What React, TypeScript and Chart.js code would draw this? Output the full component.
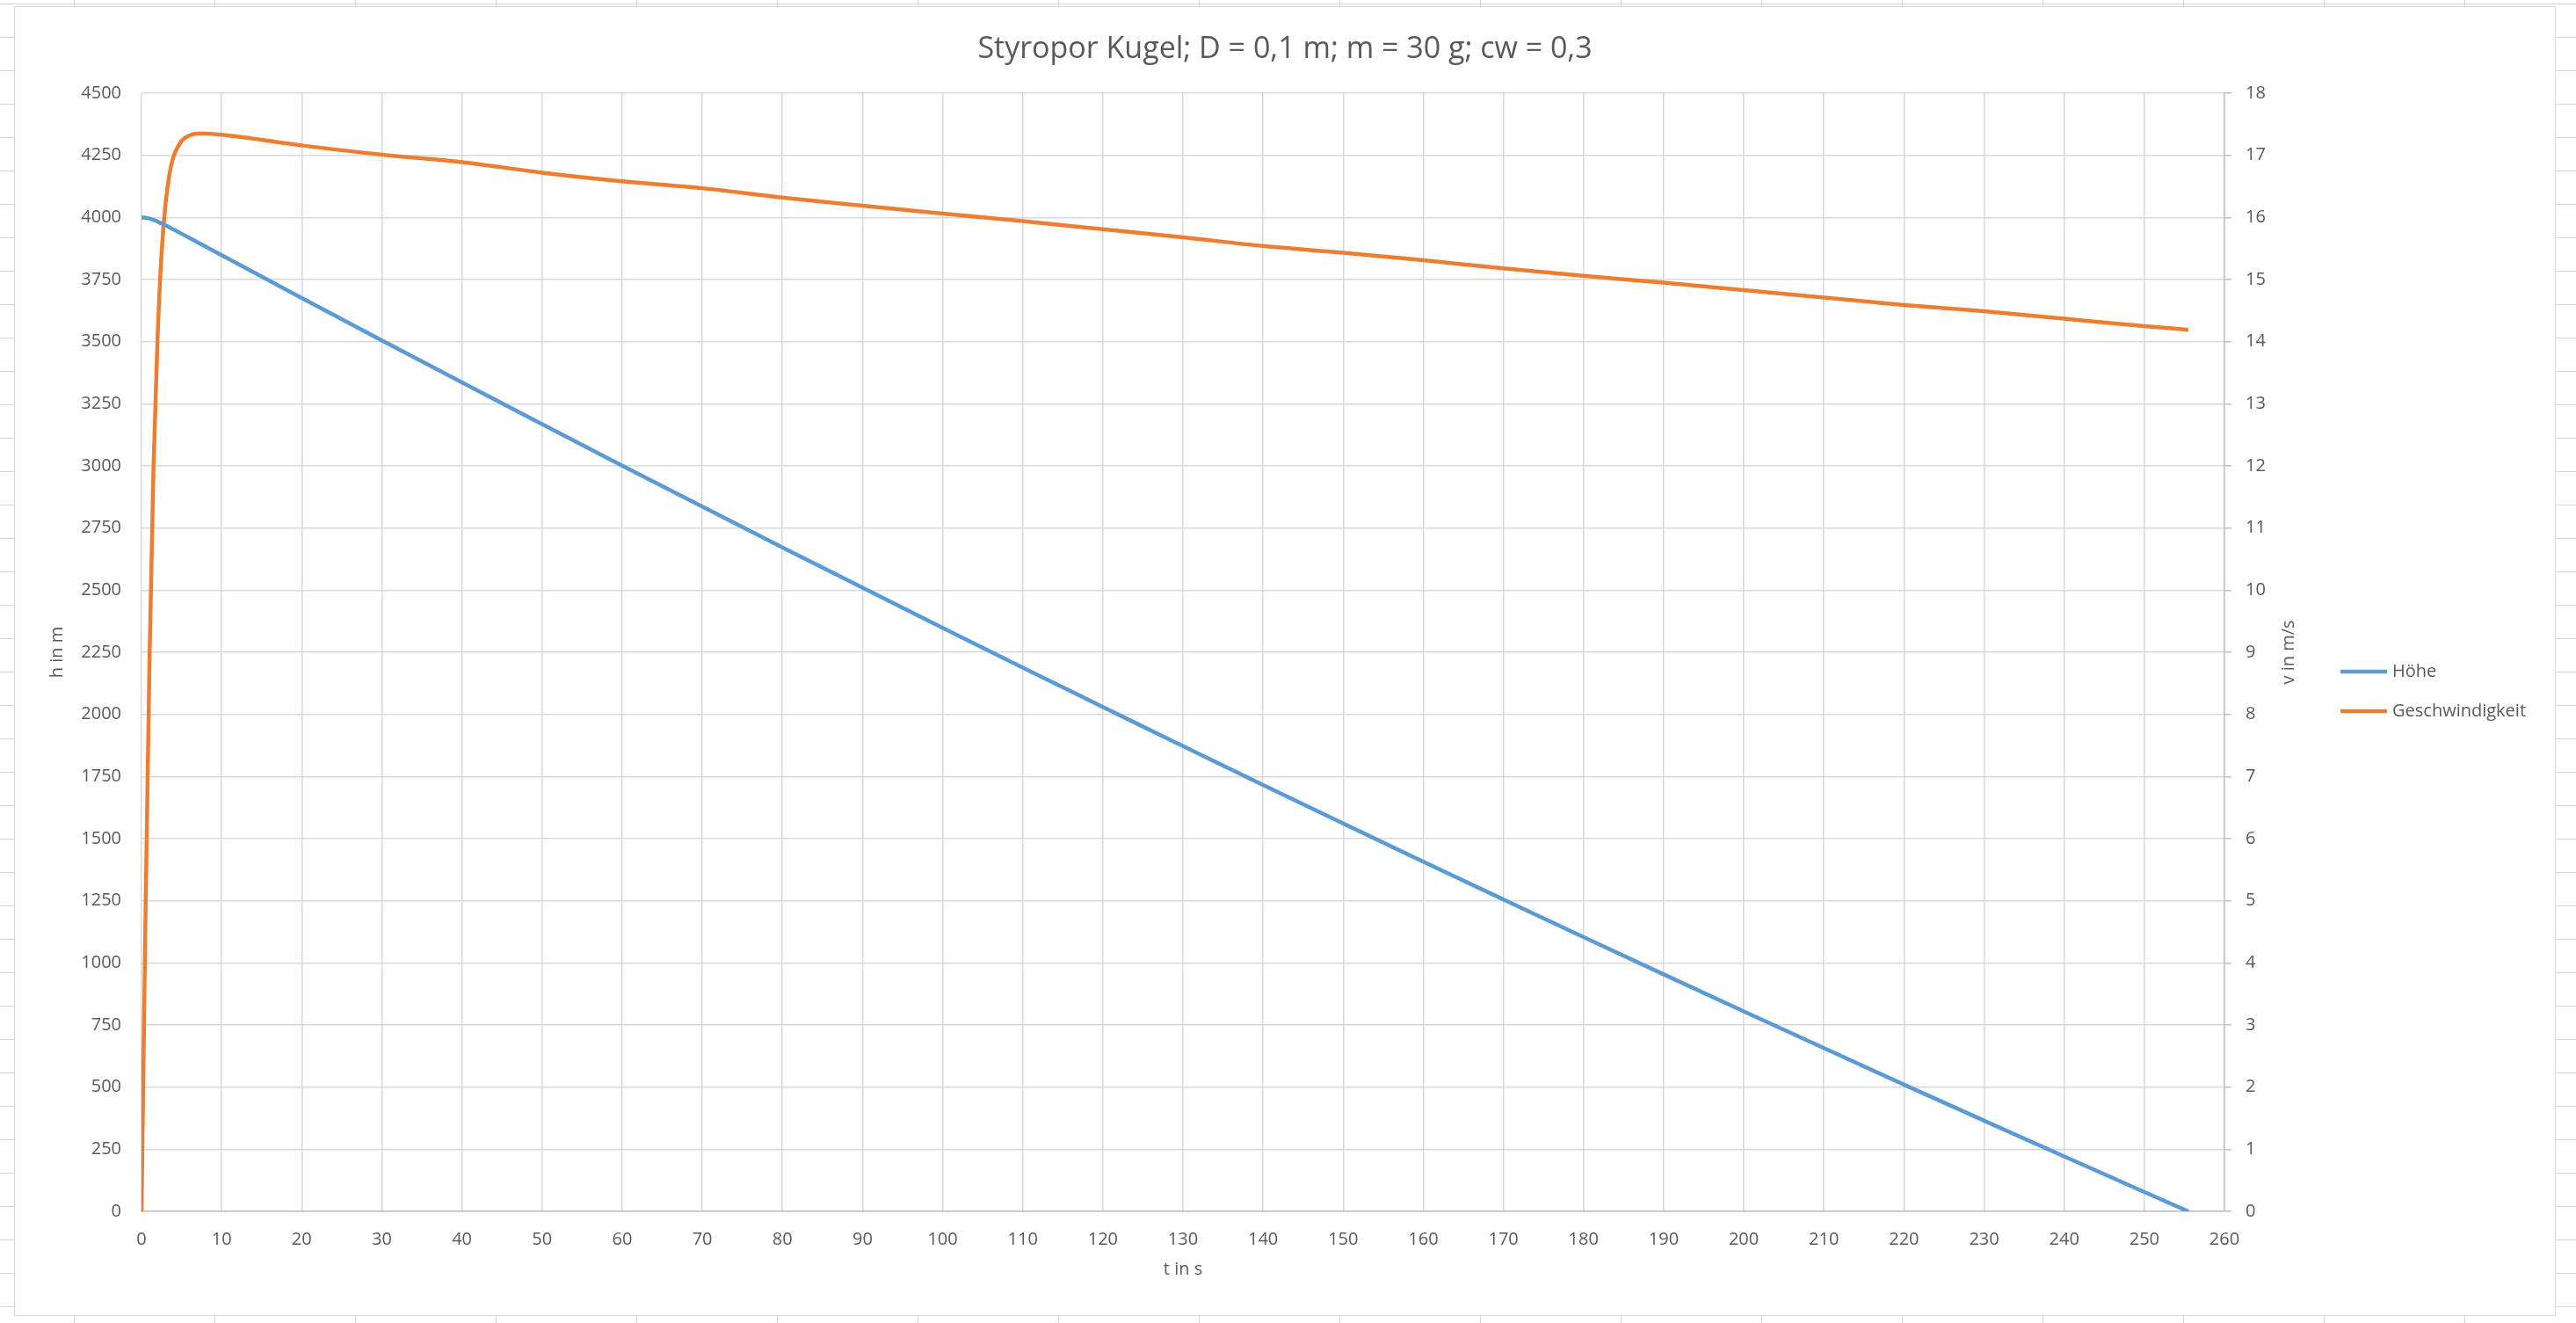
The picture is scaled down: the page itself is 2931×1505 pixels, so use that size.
import { useEffect, useRef } from 'react';
import { Chart, registerables } from 'chart.js';

Chart.register(...registerables);

const chartTitle = 'Styropor Kugel; D = 0,1 m; m = 30 g; cw = 0,3';
const xAxisTitle = 't in s';
const leftAxisTitle = 'h in m';
const rightAxisTitle = 'v in m/s';
const seriesLabels = ['Höhe', 'Geschwindigkeit'];
const seriesColors = ['#5b9bd5', '#ed7d31'];

// t in s
const timeValues = [
  0, 0.5, 1, 1.5, 2, 2.5, 3, 3.5, 4, 5, 6, 7, 8, 10,
  20, 30, 40, 50, 60, 70, 80, 90, 100, 110, 120, 130, 140, 150,
  160, 170, 180, 190, 200, 210, 220, 230, 240, 250, 255.5,
];
// h in m
const heightValues = [
  4000, 3998.8, 3995.3, 3990.1, 3983.2, 3976, 3968.2, 3960, 3951.5, 3934.4, 3917.1, 3899.8, 3882.5, 3848,
  3676, 3505, 3336, 3168, 3001, 2836, 2672, 2510, 2348, 2188, 2030, 1872, 1716, 1561,
  1407, 1255, 1104, 954, 805, 657, 510, 365, 221, 78, 0,
];
// v in m/s
const speedValues = [
  0, 4.78, 8.89, 11.98, 14.05, 15.41, 16.22, 16.7, 16.98, 17.23, 17.32, 17.35, 17.35, 17.33,
  17.16, 17.01, 16.89, 16.72, 16.58, 16.47, 16.32, 16.19, 16.06, 15.94, 15.81, 15.68, 15.54, 15.43,
  15.31, 15.18, 15.06, 14.95, 14.83, 14.71, 14.59, 14.49, 14.37, 14.25, 14.19,
];

const fontFamily = "'Open Sans', sans-serif";
const textColor = '#595959';
const gridColor = '#d9d9d9';
const axisColor = '#bfbfbf';

// right axis title (reads bottom-up like Excel) and the legend on the right
const sideTextPlugin = {
  id: 'sideText',
  afterDraw(chart: any) {
    const { ctx, chartArea } = chart;
    ctx.save();
    ctx.font = `20px ${fontFamily}`;
    ctx.fillStyle = textColor;
    ctx.textBaseline = 'middle';

    ctx.save();
    ctx.translate(chartArea.right + 73, (chartArea.top + chartArea.bottom) / 2);
    ctx.rotate(-Math.PI / 2);
    ctx.textAlign = 'center';
    ctx.fillText(rightAxisTitle, 0, 0);
    ctx.restore();

    chart.data.datasets.forEach((ds: any, i: number) => {
      const y = chartArea.top + 658 + i * 45;
      ctx.strokeStyle = ds.borderColor;
      ctx.lineWidth = 4.5;
      ctx.beginPath();
      ctx.moveTo(chartArea.right + 132, y);
      ctx.lineTo(chartArea.right + 185, y);
      ctx.stroke();
      ctx.textAlign = 'left';
      ctx.fillText(ds.label, chartArea.right + 191, y);
    });
    ctx.restore();
  },
};

const FallChart = () => {
  const chartRef = useRef<HTMLCanvasElement>(null);
  const chartInstance = useRef<Chart | null>(null);

  useEffect(() => {
    const canvas = chartRef.current;
    if (!canvas) return;
    const ctx = canvas.getContext('2d');
    if (!ctx) return;

    if (chartInstance.current) {
      chartInstance.current.destroy();
    }

    const tickFont = { family: fontFamily, size: 20 };
    const plain = (v: any) => String(v);

    chartInstance.current = new Chart(ctx, {
      type: 'line',
      data: {
        datasets: [
          {
            label: seriesLabels[0],
            data: timeValues.map((t, i) => ({ x: t, y: heightValues[i] })),
            borderColor: seriesColors[0],
            backgroundColor: seriesColors[0],
            borderWidth: 4.5,
            pointRadius: 0,
            cubicInterpolationMode: 'monotone',
            yAxisID: 'y',
          },
          {
            label: seriesLabels[1],
            data: timeValues.map((t, i) => ({ x: t, y: speedValues[i] })),
            borderColor: seriesColors[1],
            backgroundColor: seriesColors[1],
            borderWidth: 4.5,
            pointRadius: 0,
            cubicInterpolationMode: 'monotone',
            yAxisID: 'y1',
          },
        ],
      },
      options: {
        responsive: true,
        maintainAspectRatio: false,
        animation: false,
        layout: { padding: 0 },
        plugins: {
          legend: { display: false },
          tooltip: { enabled: false },
          title: {
            display: true,
            text: chartTitle,
            color: textColor,
            font: { family: fontFamily, size: 34, weight: 'normal' },
            padding: { top: 27.6, bottom: 29.6 },
          },
        },
        scales: {
          x: {
            type: 'linear',
            min: 0,
            max: 260,
            ticks: { stepSize: 10, color: textColor, font: tickFont, padding: 20, callback: plain },
            grid: { color: gridColor, lineWidth: 1.5, drawTicks: false },
            border: { color: axisColor, width: 1.5 },
            title: {
              display: true,
              text: xAxisTitle,
              color: textColor,
              font: tickFont,
              padding: { top: 0, bottom: 40 },
            },
            afterFit: (scale: any) => {
              scale.height = 118;
            },
          },
          y: {
            position: 'left',
            min: 0,
            max: 4500,
            ticks: { stepSize: 250, color: textColor, font: tickFont, padding: 23, callback: plain },
            grid: { color: gridColor, lineWidth: 1.5, drawTicks: false },
            border: { display: false },
            title: {
              display: true,
              text: leftAxisTitle,
              color: textColor,
              font: tickFont,
              padding: { top: 36, bottom: 0 },
            },
            afterFit: (scale: any) => {
              scale.width = 144;
            },
          },
          y1: {
            position: 'right',
            min: 0,
            max: 18,
            ticks: { stepSize: 1, color: textColor, font: tickFont, padding: 16, callback: plain },
            grid: { drawOnChartArea: false, drawTicks: true, tickLength: 8, color: axisColor, lineWidth: 1.5 },
            border: { color: axisColor, width: 1.5 },
            afterFit: (scale: any) => {
              scale.width = 376;
            },
          },
        },
      },
      plugins: [sideTextPlugin],
    } as any);

    return () => {
      if (chartInstance.current) {
        chartInstance.current.destroy();
        chartInstance.current = null;
      }
    };
  }, []);

  return (
    <div
      style={{
        position: 'absolute',
        left: 0,
        top: 0,
        width: 2931,
        height: 1505,
        backgroundColor: '#fff',
        backgroundImage:
          'linear-gradient(to right, #d4d4d4 1px, transparent 1px), linear-gradient(to bottom, #d4d4d4 1px, transparent 1px)',
        backgroundSize: '160px 38px',
        backgroundPosition: '84px 4px',
      }}
    >
      <div
        style={{
          position: 'absolute',
          left: 16,
          top: 7,
          width: 2890,
          height: 1488,
          border: '1px solid #d9d9d9',
          background: '#fff',
        }}
      >
        <canvas ref={chartRef} />
      </div>
    </div>
  );
};

export default function App() {
  return <FallChart />;
}
